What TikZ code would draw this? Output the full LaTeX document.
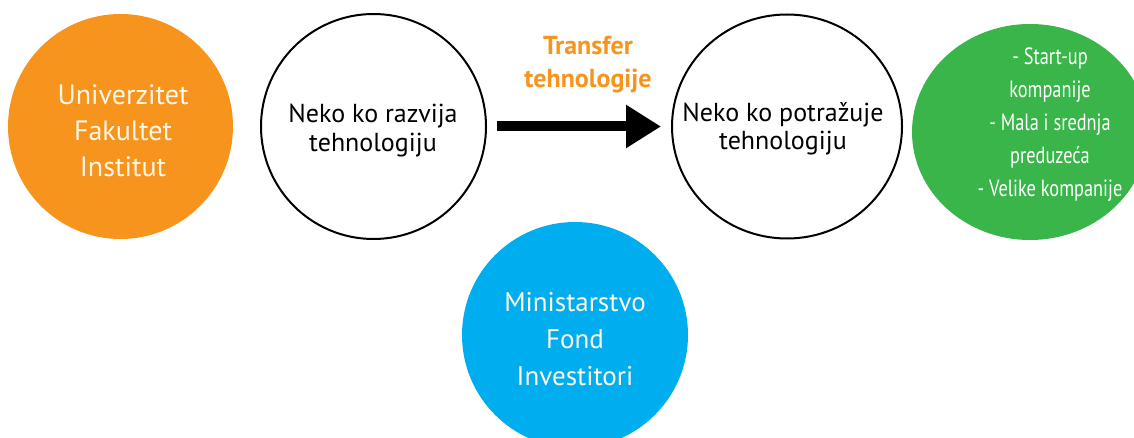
\documentclass[tikz,border=0pt]{standalone}
\usepackage{fontspec}
\setmainfont{PT Sans}
\newfontfamily\condsans[FakeStretch=0.78]{PT Sans}
\usetikzlibrary{arrows.meta,shapes.geometric}
\definecolor{corange}{HTML}{F7941D}
\definecolor{cgreen}{HTML}{39B54A}
\definecolor{cblue}{HTML}{00AEEF}
\definecolor{ccream}{HTML}{FFF6E6}
\begin{document}
\begin{tikzpicture}[x=1pt,y=-1pt,
  blob/.style={inner sep=0pt, outer sep=0pt},
  ring/.style={draw=black, line width=2pt, inner sep=0pt, outer sep=0pt},
  lbl/.style={align=center, inner sep=0pt, anchor=base},
  flow/.style={line width=10pt, -{Triangle[length=35pt,width=41pt]}, shorten <=11pt, shorten >=11pt}]
\useasboundingbox (0,0) rectangle (1134,438);
\clip (0,0) rectangle (1134,438);
\fill[white] (0,0) rectangle (1134,438);
% circles
\node[blob, fill=corange, circle, minimum size=225pt] (uni) at (120.5,126.5) {};
\node[ring, circle, minimum size=225pt] (dev) at (373.5,126.5) {};
\node[ring, ellipse, minimum width=230pt, minimum height=224pt] (dem) at (787,126.5) {};
\node[blob, fill=cgreen, ellipse, minimum width=236pt, minimum height=216pt] (firms) at (1030,132) {};
\node[blob, fill=cblue, circle, minimum size=226pt] (fund) at (575,335) {};
% arrow
\draw[flow] (dev) -- (dem);
% texts (anchor base = baseline of the last line)
\node[lbl, text=ccream, font=\fontsize{28}{36}\selectfont] (unitxt) at (123,177) {Univerzitet\\Fakultet\\Institut};
\node[lbl, text=black, font=\fontsize{26}{29}\selectfont] (devtxt) at (373,152) {Neko ko razvija\\tehnologiju};
\node[lbl, text=black, font=\fontsize{26}{28}\selectfont] (demtxt) at (783,150) {Neko ko potražuje\\tehnologiju};
\node[lbl, text=white, font=\condsans\fontsize{23.5}{33}\selectfont] (firmtxt) at (1050,197) {- Start-up\\kompanije\\- Mala i srednja\\preduzeća\\- Velike kompanije};
\node[lbl, text=ccream, font=\fontsize{27}{37}\selectfont] (fundtxt) at (575,385) {Ministarstvo\\Fond\\Investitori};
\node[lbl, text=corange, font=\bfseries\fontsize{26}{33}\selectfont] (tt) at (588,88) {Transfer\\tehnologije};
\end{tikzpicture}
\end{document}
